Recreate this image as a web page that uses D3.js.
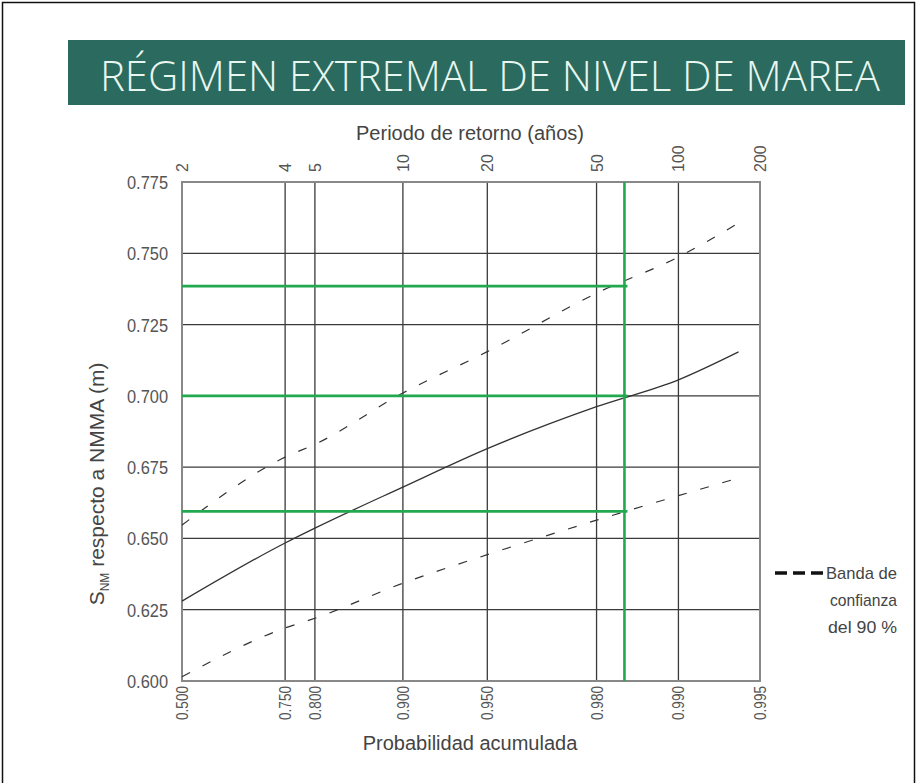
<!DOCTYPE html>
<html><head><meta charset="utf-8">
<script src="https://cdn.jsdelivr.net/npm/d3@7"></script>
<style>html,body{margin:0;padding:0;background:#fff;}svg{display:block;}</style>
</head><body>
<script>
// ---- data ----
const probTicks = [0.5, 0.75, 0.8, 0.9, 0.95, 0.98, 0.99, 0.995];
const probLabels = ["0.500", "0.750", "0.800", "0.900", "0.950", "0.980", "0.990", "0.995"];
const periodTicks = [2, 4, 5, 10, 20, 50, 100, 200];
const levelTicks = [0.600, 0.625, 0.650, 0.675, 0.700, 0.725, 0.750, 0.775];
const curveProbs = [0.5, 0.75, 0.8, 0.9, 0.95, 0.98, 0.99, 0.994];
const central = [0.628, 0.6484, 0.6536, 0.668, 0.6815, 0.6962, 0.7056, 0.7154];
const upperBand = [0.6547, 0.6785, 0.683, 0.701, 0.7155, 0.736, 0.7487, 0.7606];
const lowerBand = [0.6015, 0.6186, 0.622, 0.6343, 0.6443, 0.6564, 0.665, 0.6712];
const refLevels = [0.7385, 0.700, 0.6595];
const refProb = 0.9842;
const legendLines = ["Banda de", "confianza", "del 90 %"];

const W = 918, H = 783;
const M = {left: 182, right: 760, top: 182, bottom: 681};

const svg = d3.select("body").append("svg").attr("width", W).attr("height", H);
svg.append("rect").attr("x", 2.5).attr("y", 2.5).attr("width", 912).attr("height", 800)
  .attr("fill", "#fff").attr("stroke", "#111").attr("stroke-width", 1.5);

// Gumbel probability scale
const gumbel = p => -Math.log(-Math.log(p));
const lin = d3.scaleLinear().domain([gumbel(0.5), gumbel(0.995)]).range([M.left, M.right]);
const x = p => lin(gumbel(p));
const y = d3.scaleLinear().domain([0.6, 0.775]).range([M.bottom, M.top]);

// Title bar
svg.append("rect").attr("x", 68).attr("y", 40).attr("width", 837).attr("height", 65).attr("fill", "#2b6a5e");
svg.append("text").attr("x", 490).attr("y", 91).attr("text-anchor", "middle")
  .attr("font-family", "'Open Sans', sans-serif").attr("font-size", 42).attr("font-weight", 300).attr("fill", "#e8f6f0")
  .attr("textLength", 780).attr("lengthAdjust", "spacingAndGlyphs")
  .text("RÉGIMEN EXTREMAL DE NIVEL DE MAREA");

const sans = "'Liberation Sans', Arial, sans-serif";

// grid
const g = svg.append("g");
g.selectAll("line.v").data(probTicks.slice(1, -1)).join("line")
  .attr("x1", d => x(d)).attr("x2", d => x(d)).attr("y1", M.top).attr("y2", M.bottom)
  .attr("stroke", "#3a3a3a").attr("stroke-width", 1.3);
g.selectAll("line.h").data(levelTicks.slice(1, -1)).join("line").attr("class", "h")
  .attr("x1", M.left).attr("x2", M.right).attr("y1", d => y(d)).attr("y2", d => y(d))
  .attr("stroke", "#3a3a3a").attr("stroke-width", 1.3);
g.append("rect").attr("x", M.left).attr("y", M.top).attr("width", M.right - M.left).attr("height", M.bottom - M.top)
  .attr("fill", "none").attr("stroke", "#888").attr("stroke-width", 2);

// curves
const line = d3.line().x(d => x(d[0])).y(d => y(d[1])).curve(d3.curveMonotoneX);
const mk = arr => curveProbs.map((p, i) => [p, arr[i]]);
svg.append("path").attr("d", line(mk(central))).attr("fill", "none").attr("stroke", "#333").attr("stroke-width", 1.3);
[upperBand, lowerBand].forEach(b => {
  svg.append("path").attr("d", line(mk(b))).attr("fill", "none").attr("stroke", "#333")
    .attr("stroke-width", 1.2).attr("stroke-dasharray", "9,14");
});

// green reference lines
const green = "#22a94f";
svg.selectAll("line.gr").data(refLevels).join("line")
  .attr("x1", M.left).attr("x2", x(refProb) + 3).attr("y1", d => y(d)).attr("y2", d => y(d))
  .attr("stroke", green).attr("stroke-width", 2.6);
svg.append("line").attr("x1", x(refProb)).attr("x2", x(refProb)).attr("y1", M.top).attr("y2", M.bottom)
  .attr("stroke", green).attr("stroke-width", 2.6);

// y tick labels
svg.selectAll("text.yt").data(levelTicks).join("text")
  .attr("x", M.left - 14).attr("y", d => y(d) + 7).attr("text-anchor", "end")
  .attr("font-family", sans).attr("font-size", 19).attr("fill", "#555")
  .attr("textLength", 41).attr("lengthAdjust", "spacingAndGlyphs")
  .text(d => d3.format(".3f")(d));

// bottom tick labels (rotated)
svg.selectAll("text.bt").data(probTicks).join("text")
  .attr("transform", d => `translate(${x(d) + 6},${M.bottom + 5}) rotate(-90)`)
  .attr("text-anchor", "end").attr("font-family", sans).attr("font-size", 17).attr("fill", "#555")
  .attr("textLength", 34).attr("lengthAdjust", "spacingAndGlyphs")
  .text((d, i) => probLabels[i]);

// top tick labels (rotated)
svg.selectAll("text.tt").data(periodTicks).join("text")
  .attr("transform", d => `translate(${x(1 - 1 / d) + 6},${M.top - 10}) rotate(-90)`)
  .attr("text-anchor", "start").attr("font-family", sans).attr("font-size", 16).attr("fill", "#555")
  .text(d => d);

// axis titles
svg.append("text").attr("x", 470).attr("y", 140).attr("text-anchor", "middle")
  .attr("font-family", sans).attr("font-size", 20).attr("fill", "#444")
  .text("Periodo de retorno (años)");
svg.append("text").attr("x", 470).attr("y", 750).attr("text-anchor", "middle")
  .attr("font-family", sans).attr("font-size", 20).attr("fill", "#444")
  .text("Probabilidad acumulada");
const yl = svg.append("text").attr("transform", "translate(104,484) rotate(-90)").attr("text-anchor", "middle")
  .attr("font-family", sans).attr("font-size", 21).attr("fill", "#444");
yl.append("tspan").text("S");
yl.append("tspan").attr("font-size", 12).attr("dy", 5).text("NM");
yl.append("tspan").attr("dy", -5).text(" respecto a NMMA (m)");

// legend
svg.append("line").attr("x1", 775).attr("x2", 824).attr("y1", 573).attr("y2", 573)
  .attr("stroke", "#111").attr("stroke-width", 3.5).attr("stroke-dasharray", "12,6");
svg.selectAll("text.lg").data(legendLines).join("text")
  .attr("x", 897).attr("y", (d, i) => 579 + i * 27).attr("text-anchor", "end")
  .attr("font-family", sans).attr("font-size", 17).attr("fill", "#444")
  .attr("textLength", (d, i) => [71, 67, 69][i]).attr("lengthAdjust", "spacingAndGlyphs")
  .text(d => d);
</script>
</body></html>
